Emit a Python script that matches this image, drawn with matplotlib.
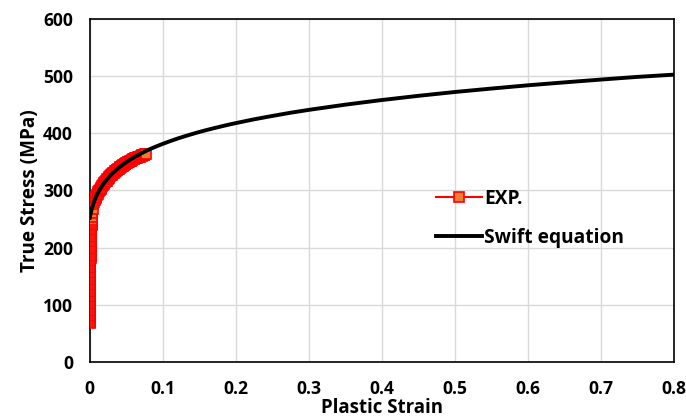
import matplotlib
matplotlib.use("Agg")
import matplotlib.pyplot as plt

exp_strain = [
    0.0002, 0.0002, 0.0002, 0.0002, 0.0002, 0.0002, 0.0002,
    0.0003, 0.0003, 0.0003, 0.0003, 0.0003, 0.0003, 0.0003,
    0.0004, 0.0004, 0.0004, 0.0004, 0.0004, 0.0004, 0.0004,
    0.0005, 0.0005, 0.0005, 0.0005, 0.0006, 0.0006, 0.0006,
    0.0008, 0.0008, 0.0008, 0.0008, 0.0008,
    0.0010, 0.0010, 0.0010, 0.0010, 0.0010,
    0.0012, 0.0012, 0.0012, 0.0012, 0.0012,
    0.0014, 0.0014, 0.0014, 0.0014, 0.0014,
    0.0016, 0.0017, 0.0018, 0.0019, 0.0020, 0.0021, 0.0022,
    0.0023, 0.0024, 0.0025, 0.0026, 0.0028, 0.0030,
    0.0032, 0.0035, 0.004, 0.005, 0.006, 0.007, 0.008, 0.009, 0.010,
    0.011, 0.012, 0.013, 0.014, 0.015, 0.016, 0.017, 0.018, 0.019, 0.020,
    0.021, 0.022, 0.023, 0.024, 0.025, 0.026, 0.027, 0.028, 0.029, 0.030,
    0.031, 0.032, 0.033, 0.034, 0.035, 0.036, 0.037, 0.038, 0.039, 0.040,
    0.041, 0.042, 0.043, 0.044, 0.045, 0.046, 0.047, 0.048, 0.049, 0.050,
    0.051, 0.052, 0.053, 0.054, 0.055, 0.056, 0.057, 0.058, 0.059, 0.060,
    0.061, 0.062, 0.063, 0.064, 0.065, 0.066, 0.067, 0.068, 0.069, 0.070,
    0.071, 0.072, 0.073, 0.074, 0.075, 0.076, 0.077]
exp_stress = [
    68, 71, 74, 77, 80, 83, 86,
    89, 92, 95, 98, 101, 104, 107,
    110, 113, 116, 119, 122, 125, 128,
    131, 134, 137, 140, 143, 146, 149,
    152, 155, 158, 161, 164,
    167, 170, 173, 176, 179,
    182, 185, 188, 191, 194,
    197, 200, 203, 206, 209,
    212, 215, 218, 221, 224, 227, 230,
    233, 236, 239, 242, 245, 248,
    254, 260, 268, 276, 280, 283, 286, 289, 292,
    294, 297, 299, 301, 303, 305, 307, 309, 311, 313,
    314, 316, 317, 319, 320, 322, 323, 325, 326, 327,
    328, 330, 331, 332, 333, 334, 335, 336, 337, 338,
    339, 340, 341, 342, 343, 344, 345, 346, 346, 347,
    348, 349, 350, 350, 351, 352, 352, 353, 354, 354,
    355, 356, 356, 357, 357, 358, 358, 359, 359, 360,
    360, 361, 361, 362, 362, 363, 363]

# Swift equation curve
swift_strain = [0.0, 0.001, 0.002, 0.003, 0.005, 0.0075, 0.01, 0.015, 0.02,
                0.03, 0.04, 0.05, 0.06, 0.07, 0.08, 0.09, 0.1, 0.11, 0.12,
                0.13, 0.14, 0.15, 0.16, 0.17, 0.18, 0.19, 0.2, 0.225, 0.25,
                0.275, 0.3, 0.35, 0.4, 0.45, 0.5, 0.55, 0.6, 0.65, 0.7,
                0.75, 0.8]
swift_stress = [252, 258, 263.6, 268.5, 276.8, 285.5, 292.6, 304, 313.6,
                328.4, 339.8, 349.2, 357.2, 364.2, 370.6, 376.1, 381.2, 385.9, 390.3,
                394.4, 398.2, 401.9, 405.3, 408.5, 411.6, 414.6, 417.4, 424, 429.9,
                435.5, 440.5, 449.6, 457.7, 465, 471.7, 477.7, 483.4, 488.5, 493.4,
                498.1, 502]

x_ticks = [0, 0.1, 0.2, 0.3, 0.4, 0.5, 0.6, 0.7, 0.8]
x_tick_labels = ["0", "0.1", "0.2", "0.3", "0.4", "0.5", "0.6", "0.7", "0.8"]
y_ticks = [0, 100, 200, 300, 400, 500, 600]

plt.rcParams['font.family'] = ['Open Sans', 'DejaVu Sans']
plt.rcParams['font.weight'] = 'bold'

fig = plt.figure(figsize=(6.86, 4.2), dpi=100)
ax = fig.add_axes([0.1308, 0.1376, 0.8513, 0.8183])

ax.plot(exp_strain, exp_stress, color="#FF0000", lw=1.5, marker="s",
        markersize=6.5, markerfacecolor="#ED7D31", markeredgecolor="#FF0000",
        markeredgewidth=1.2, label="EXP.", zorder=3)
ax.plot(swift_strain, swift_stress, color="black", lw=2.8,
        label="Swift equation", zorder=4)

ax.set_xlim(0, 0.8)
ax.set_ylim(0, 600)
ax.set_xticks(x_ticks)
ax.set_xticklabels(x_tick_labels)
ax.set_yticks(y_ticks)
ax.tick_params(axis="both", length=0, labelsize=12.6)
ax.tick_params(axis="x", pad=13)
ax.tick_params(axis="y", pad=12)
for lab in ax.get_xticklabels() + ax.get_yticklabels():
    lab.set_fontweight("bold")

ax.grid(True, color="#D9D9D9", lw=1.0)
ax.set_axisbelow(True)
for sp in ax.spines.values():
    sp.set_color("black")
    sp.set_linewidth(1.2)

ax.set_xlabel("Plastic Strain", fontsize=13.4, fontweight="bold", labelpad=0)
ax.set_ylabel("True Stress (MPa)", fontsize=13.6, fontweight="bold", labelpad=2)

ax.legend(loc="center left", bbox_to_anchor=(0.593, 0.419), frameon=False,
          labelspacing=1.0, handlelength=2.4, handletextpad=0.1,
          borderpad=0, borderaxespad=0,
          prop={"weight": "bold", "size": 13.8})

fig.savefig("out.png", dpi=100)
